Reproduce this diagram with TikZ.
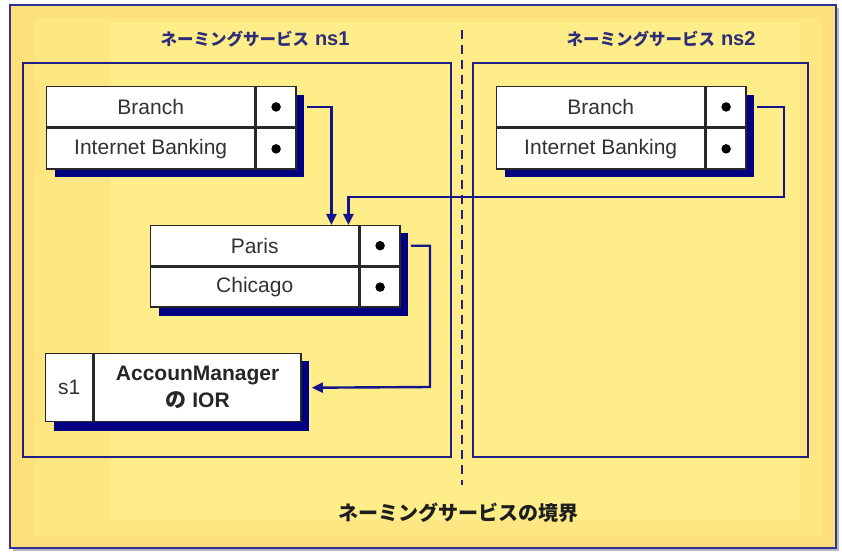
\documentclass[tikz,border=0pt]{standalone}
\usepackage{fontspec}
\setmainfont{Liberation Sans}
\newfontfamily\jp{Noto Sans CJK JP}
\usetikzlibrary{arrows.meta}
\definecolor{navy}{RGB}{0,0,128}
\definecolor{framec}{RGB}{50,50,150}
\definecolor{nsc}{RGB}{32,32,130}
\definecolor{connc}{RGB}{20,20,140}
\definecolor{yel1}{RGB}{253,224,124}
\definecolor{yel2}{RGB}{254,231,131}
\definecolor{yel3}{RGB}{255,237,137}
\definecolor{titlec}{RGB}{45,45,120}
\definecolor{txtc}{RGB}{50,50,50}
\definecolor{cellb}{RGB}{40,40,40}
\definecolor{botc}{RGB}{30,30,30}
\begin{document}
\begin{tikzpicture}[x=1pt,y=-1pt,
  cell/.style={draw=cellb, line width=1.4pt, fill=white, inner sep=0pt,
    minimum height=40.5pt, font=\fontsize{21}{24}\selectfont, text=txtc},
  dotcell/.style={cell, minimum width=40pt},
  namecell/.style={cell, minimum width=208pt},
  tshadow/.style={fill=navy},
  nsbox/.style={draw=nsc, line width=2.5pt},
  conn/.style={draw=connc, line width=2.4pt, -{Triangle[length=11pt,width=10pt]}},
  dotmark/.style={circle, fill=black, inner sep=0pt, minimum size=9.5pt},
  title/.style={text=titlec, inner sep=0pt}
]
\useasboundingbox (0,0) rectangle (842,553);
% outer frame
\fill[gray!55] (13,8) rectangle (839,551);
\fill[yel1] (10,5) rectangle (836,548);
\fill[yel2] (35,18) rectangle (822,536);
\fill[yel3] (110,22) rectangle (800,520);
\draw[framec, line width=1.2pt] (10,5) rectangle (836,548);

% titles
\node[title] (ns1title) at (255,39) {{\jp\fontsize{16.5}{18}\selectfont\bfseries ネーミングサービス}\hspace{6pt}{\fontsize{20}{20}\selectfont\bfseries ns1}};
\node[title] (ns2title) at (661,39) {{\jp\fontsize{16.5}{18}\selectfont\bfseries ネーミングサービス}\hspace{6pt}{\fontsize{20}{20}\selectfont\bfseries ns2}};

% naming service boxes
\draw[nsbox] (23,63) rectangle (451,457);
\draw[nsbox] (473,63) rectangle (808,457);

% boundary
\coordinate (dtop) at (462,30);
\coordinate (dbot) at (462,485);
\draw[nsc, line width=2.2pt, dash pattern=on 9pt off 6pt] (dtop) -- (dbot);
\node[font=\jp\fontsize{20}{24}\selectfont\bfseries, text=botc] (boundary) at (458,513) {ネーミングサービスの境界};

% ns1 Branch table
\coordinate (b1) at (46,86);
\fill[tshadow] ([shift={(9,9)}]b1) rectangle ++(249,82);
\node[namecell, anchor=north west] (b1n1) at (b1) {Branch};
\node[dotcell, anchor=west] (b1d1) at (b1n1.east) {};
\node[namecell, anchor=north] (b1n2) at (b1n1.south) {Internet Banking};
\node[dotcell, anchor=west] (b1d2) at (b1n2.east) {};
\node[dotmark] (b1m1) at (b1d1.center) {};
\node[dotmark] (b1m2) at (b1d2.center) {};

% ns2 Branch table
\coordinate (b2) at (496,86);
\fill[tshadow] ([shift={(9,9)}]b2) rectangle ++(249,82);
\node[namecell, anchor=north west] (b2n1) at (b2) {Branch};
\node[dotcell, anchor=west] (b2d1) at (b2n1.east) {};
\node[namecell, anchor=north] (b2n2) at (b2n1.south) {Internet Banking};
\node[dotcell, anchor=west] (b2d2) at (b2n2.east) {};
\node[dotmark] (b2m1) at (b2d1.center) {};
\node[dotmark] (b2m2) at (b2d2.center) {};

% Paris / Chicago table
\coordinate (pc) at (150,225);
\fill[tshadow] ([shift={(9,8)}]pc) rectangle ++(249,83);
\node[namecell, anchor=north west, minimum height=40pt] (pn1) at (pc) {Paris};
\node[dotcell, anchor=west, minimum height=40pt] (pd1) at (pn1.east) {};
\node[namecell, anchor=north, minimum height=40pt] (pn2) at (pn1.south) {Chicago};
\node[dotcell, anchor=west, minimum height=40pt] (pd2) at (pn2.east) {};
\node[dotmark] (pm1) at (pd1.center) {};
\node[dotmark] (pm2) at (pd2.center) {};

% s1 box
\coordinate (s1c) at (45,353);
\fill[tshadow] ([shift={(9,8)}]s1c) rectangle ++(255,70);
\node[cell, anchor=north west, minimum width=47pt, minimum height=68pt] (s1) at (s1c) {s1};
\node[cell, anchor=west, minimum width=207pt, minimum height=68pt, align=center,
  font=\fontsize{21}{27}\selectfont\bfseries, text=black!85] (ior) at (s1.east)
  {AccounManager\\{\jp の} IOR};

% connectors
\draw[conn] ([xshift=10pt]b1d1.east) -| ([xshift=-28pt]pn1.north east);
\coordinate (t2) at (784,197);
\draw[conn] ([xshift=10pt]b2d1.east) -| (t2) -| ([xshift=-11pt]pn1.north east);
\coordinate (t3) at (430,387);
\draw[conn] ([xshift=10pt]pd1.east) -| (t3) -- ([xshift=10pt]ior.east);
\end{tikzpicture}
\end{document}
